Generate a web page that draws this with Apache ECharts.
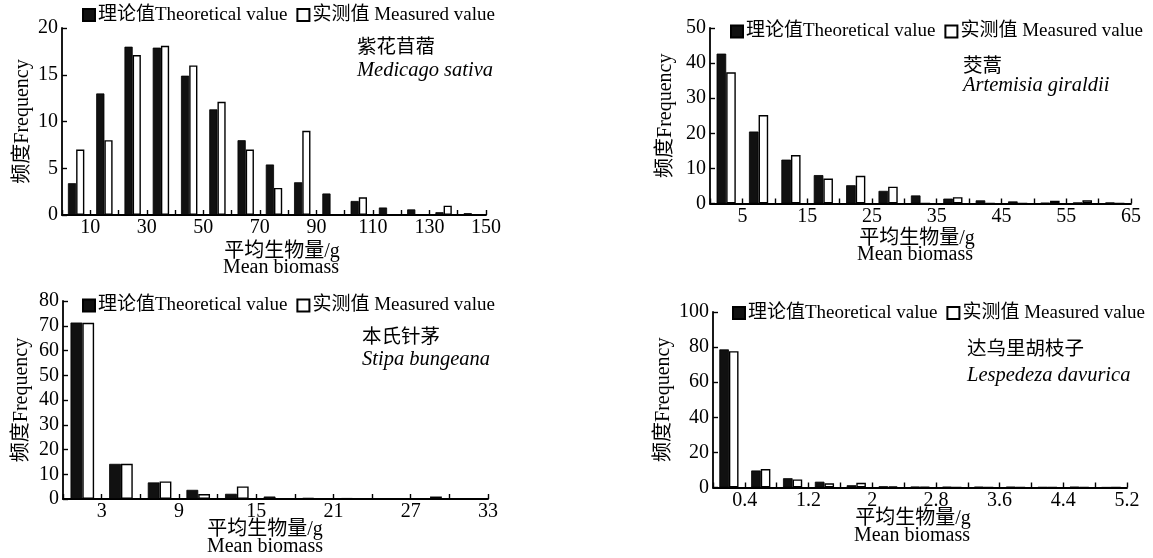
<!DOCTYPE html>
<html><head><meta charset="utf-8">
<script src="https://cdn.jsdelivr.net/npm/echarts@6/dist/echarts.min.js"></script>
<style>html,body{margin:0;padding:0;background:#fff}#c{width:1153px;height:558px}</style>
</head><body><div id="c"></div>
<script>
// ---------- data ----------
const seriesNames = ['理论值Theoretical value', '实测值 Measured value'];

// Panel 1: 紫花苜蓿 Medicago sativa (bin width 10)
const bins1 = [5, 15, 25, 35, 45, 55, 65, 75, 85, 95, 105, 115, 125, 135, 145];
const theo1 = [3.4, 13.0, 18.0, 17.9, 14.9, 11.3, 8.0, 5.4, 3.5, 2.3, 1.5, 0.8, 0.6, 0.3, 0.2];
const meas1 = [7.0, 8.0, 17.1, 18.1, 16.0, 12.1, 7.0, 2.9, 9.0, 0, 1.9, 0, 0, 1.0, 0];
const xLabels1 = ['10', '30', '50', '70', '90', '110', '130', '150'];

// Panel 2: 茭蒿 Artemisia giraldii (bin width 5)
const bins2 = [2.5, 7.5, 12.5, 17.5, 22.5, 27.5, 32.5, 37.5, 42.5, 47.5, 52.5, 57.5, 62.5];
const theo2 = [42.7, 20.5, 12.5, 8.1, 5.2, 3.6, 2.3, 1.4, 0.9, 0.6, 0.2, 0.3, 0.3];
const meas2 = [37.4, 25.2, 13.8, 7.1, 7.9, 4.8, 0, 1.8, 0, 0, 0.8, 0.9, 0];
const xLabels2 = ['5', '15', '25', '35', '45', '55', '65'];

// Panel 3: 本氏针茅 Stipa bungeana (bin width 3)
const bins3 = [1.5, 4.5, 7.5, 10.5, 13.5, 16.5, 19.5, 22.5, 25.5, 28.5, 31.5];
const theo3 = [71.3, 14.2, 6.7, 3.7, 2.1, 1.0, 0.5, 0.4, 0, 0, 0];
const meas3 = [71.2, 14.2, 7.1, 2.0, 5.1, 0, 0, 0, 0, 1.0, 0];
const xLabels3 = ['3', '9', '15', '21', '27', '33'];

// Panel 4: 达乌里胡枝子 Lespedeza davurica (bin width 0.4)
const bins4 = [0.2, 0.6, 1.0, 1.4, 1.8, 2.2, 2.6, 3.0, 3.4, 3.8, 4.2, 4.6, 5.0];
const theo4 = [78.7, 9.7, 5.3, 3.3, 1.3, 0.7, 0.5, 0.4, 0.4, 0.4, 0.2, 0.4, 0.1];
const meas4 = [77.7, 10.5, 4.6, 2.4, 2.7, 0.6, 0.2, 0, 0, 0, 0, 0, 0];
const xLabels4 = ['0.4', '1.2', '2', '2.8', '3.6', '4.4', '5.2'];

// ---------- layout / style ----------
const FONT = "'Liberation Serif','Noto Sans CJK SC',serif";
const panels = [
  {grid: {left: 62, top: 28, width: 424, height: 187}, x: [0, 150, 10], y: [0, 20, 5], labels: xLabels1, bins: bins1, theo: theo1, meas: meas1, bw: 8.2, yGap: 29, legend: {left: 82, top: 5.5}},
  {grid: {left: 710, top: 28, width: 421, height: 175.5}, x: [0, 65, 5], y: [0, 50, 10], labels: xLabels2, bins: bins2, theo: theo2, meas: meas2, bw: 9.6, yGap: 34, legend: {left: 730, top: 22}},
  {grid: {left: 63, top: 301, width: 425, height: 198}, x: [0, 33, 3], y: [0, 80, 10], labels: xLabels3, bins: bins3, theo: theo3, meas: meas3, bw: 11.8, yGap: 31, legend: {left: 82, top: 296}},
  {grid: {left: 713, top: 312, width: 414, height: 175.5}, x: [0, 5.2, 0.4], y: [0, 100, 20], labels: xLabels4, bins: bins4, theo: theo4, meas: meas4, bw: 9.6, yGap: 39, legend: {left: 732, top: 303.5}}
];

const axisLine = {show: true, onZero: false, lineStyle: {color: '#000', width: 1.8}};
const grids = [], xAxes = [], yAxes = [], series = [], legends = [];
panels.forEach((p, i) => {
  grids.push(Object.assign({containLabel: false}, p.grid));
  xAxes.push({
    type: 'value', gridIndex: i, min: p.x[0], max: p.x[1], interval: p.x[2],
    axisLine: axisLine, splitLine: {show: false},
    axisTick: {show: true, inside: true, length: 5, lineStyle: {color: '#000', width: 1.4}},
    axisLabel: {
      margin: 3, color: '#000', fontFamily: FONT, fontSize: 20,
      formatter: v => { const m = p.labels.find(l => Math.abs(parseFloat(l) - v) < 1e-6); return m || ''; }
    }
  });
  yAxes.push({
    type: 'value', gridIndex: i, min: p.y[0], max: p.y[1], interval: p.y[2],
    axisLine: axisLine, splitLine: {show: false},
    axisTick: {show: true, inside: true, length: 5, lineStyle: {color: '#000', width: 1.4}},
    axisLabel: {margin: 4, color: '#000', fontFamily: FONT, fontSize: 20},
    name: '频度Frequency', nameLocation: 'middle', nameGap: p.yGap,
    nameTextStyle: {color: '#000', fontFamily: FONT, fontSize: 20}
  });
  series.push({
    name: seriesNames[0], type: 'bar', xAxisIndex: i, yAxisIndex: i,
    data: p.bins.map((b, k) => [b, p.theo[k]]), barWidth: p.bw, barGap: '0%',
    itemStyle: {color: '#111', borderColor: '#000', borderWidth: 0.8}, silent: true
  });
  series.push({
    name: seriesNames[1], type: 'bar', xAxisIndex: i, yAxisIndex: i,
    data: p.bins.map((b, k) => [b, p.meas[k]]), barWidth: p.bw, barGap: '0%',
    itemStyle: {color: '#fff', borderColor: '#000', borderWidth: 1.4}, silent: true
  });
  legends.push({
    left: p.legend.left, top: p.legend.top, padding: 0, orient: 'horizontal',
    itemWidth: 12, itemHeight: 12, itemGap: 9, icon: 'rect', data: seriesNames,
    selectedMode: false,
    textStyle: {color: '#000', fontFamily: FONT, fontSize: 19, padding: [0, 0, 0, -2]}
  });
});

const titles = [
  ['紫花苜蓿', 357, 48, false], ['Medicago sativa', 357, 71, true],
  ['茭蒿', 963, 67, false], ['Artemisia giraldii', 963, 86, true],
  ['本氏针茅', 362, 338, false], ['Stipa bungeana', 362, 360, true],
  ['达乌里胡枝子', 967, 350, false], ['Lespedeza davurica', 967, 376, true]
];
const xNames = [
  ['平均生物量/g', 282, 252], ['Mean biomass', 281, 268],
  ['平均生物量/g', 917, 239], ['Mean biomass', 915, 255],
  ['平均生物量/g', 265, 530], ['Mean biomass', 265, 547],
  ['平均生物量/g', 913, 519], ['Mean biomass', 912, 536]
];
const graphic = [];
titles.forEach(t => graphic.push({
  type: 'text', x: t[1], y: t[2], silent: true,
  style: {text: t[0], fill: '#000', font: (t[3] ? 'italic 20.5px ' : '19.5px ') + FONT, textAlign: 'left', textVerticalAlign: 'middle'}
}));
xNames.forEach(t => graphic.push({
  type: 'text', x: t[1], y: t[2], silent: true,
  style: {text: t[0], fill: '#000', font: '20px ' + FONT, textAlign: 'center', textVerticalAlign: 'middle'}
}));

const chart = echarts.init(document.getElementById('c'), null, {renderer: 'canvas'});
chart.setOption({
  backgroundColor: '#fff', animation: false,
  grid: grids, xAxis: xAxes, yAxis: yAxes, series: series, legend: legends, graphic: graphic
});
</script></body></html>
